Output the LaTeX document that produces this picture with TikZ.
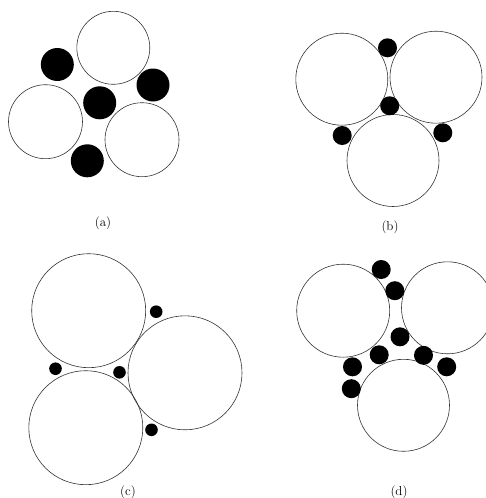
\documentclass[tikz,border=0pt]{standalone}
\usepackage{tikz}

\begin{document}
\begin{tikzpicture}[
  x=1pt,y=-1pt,
  font=\fontsize{13}{15}\selectfont,
  grain/.style={draw=black!80,line width=0.6pt,circle,inner sep=0pt,minimum size=#1},
  fine/.style={fill=black,circle,inner sep=0pt,minimum size=#1}]
\useasboundingbox (0,0) rectangle (486,498);
% (a) equal sizes
\node[grain=73pt] (a1) at (113.3,47.8)  {};
\node[grain=74pt] (a2) at (45.5,121.7)  {};
\node[grain=74pt] (a3) at (142,139.7)   {};
\foreach \x/\y [count=\i] in {57.3/64.5,99.7/102.8,153/85,87.3/160.8}
  \node[fine=33pt] (ad\i) at (\x,\y) {};
\node (la) at (103,223) {(a)};
% (b)
\node[grain=92pt] (b1) at (341.8,79.2)  {};
\node[grain=92pt] (b2) at (436,77.2)    {};
\node[grain=92pt] (b3) at (393,160.5)   {};
\foreach \x/\y [count=\i] in {387.5/47.8,389.7/105.8,342.2/135.5,442.8/132.8}
  \node[fine=19pt] (bd\i) at (\x,\y) {};
\node (lb) at (390,227) {(b)};
% (c)
\node[grain=114pt] (c1) at (88.7,310.7) {};
\node[grain=114pt] (c2) at (185,372.8)  {};
\node[grain=114pt] (c3) at (85.8,427.7) {};
\foreach \x/\y [count=\i] in {156.2/311.7,55.5/368.7,119.5/372.3,151.5/429.8}
  \node[fine=12.6pt] (cd\i) at (\x,\y) {};
\node (lc) at (128,492) {(c)};
% (d)
\node[grain=93pt] (d1) at (343.2,310.7) {};
\node[grain=92pt] (d2) at (447.5,307.8) {};
\node[grain=92pt] (d3) at (403.5,405.3) {};
\foreach \x/\y [count=\i] in {381.2/269.5,394.8/290.7,400/336.8,379.2/354.8,
                               423.5/355.3,352.5/366.8,446.7/366.8,351.3/388.7}
  \node[fine=19pt] (dd\i) at (\x,\y) {};
\node (ld) at (399,492) {(d)};
\end{tikzpicture}
\end{document}
